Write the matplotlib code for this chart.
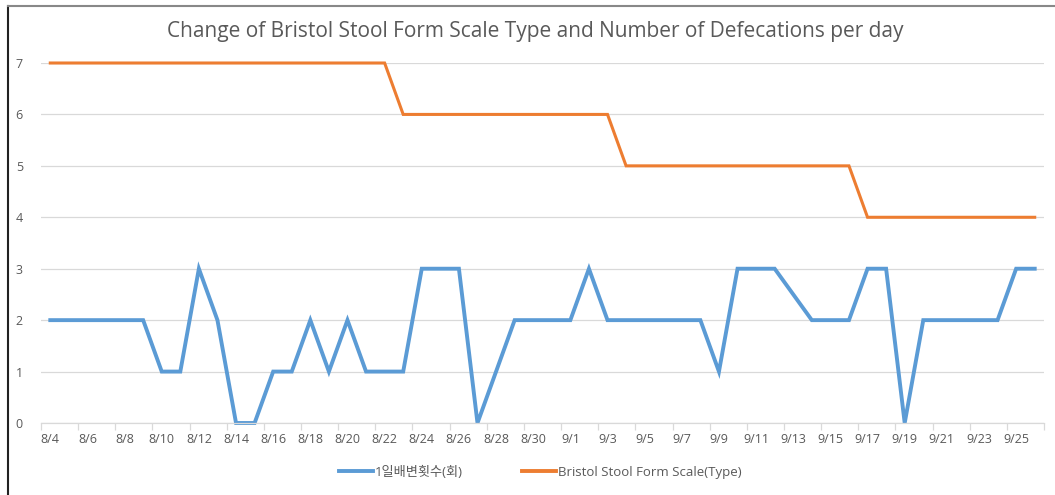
import numpy as np
import pandas as pd
import matplotlib
matplotlib.use('Agg')
from matplotlib import pyplot as plt
from matplotlib.lines import Line2D

plt.rcParams['font.family'] = ['Open Sans', 'Noto Sans CJK KR', 'DejaVu Sans']

dates = pd.date_range('2023-08-04', '2023-09-26', freq='D')
labels = [f'{d.month}/{d.day}' for d in dates]

defecations = [2, 2, 2, 2, 2, 2, 1, 1, 3, 2, 0, 0, 1, 1, 2, 1, 2, 1, 1, 1,
               3, 3, 3, 0, 1, 2, 2, 2, 2, 3, 2, 2, 2, 2, 2, 2, 1, 3, 3, 3,
               2.5, 2, 2, 2, 3, 3, 0, 2, 2, 2, 2, 2, 3, 3]
bristol = [7] * 19 + [6] * 12 + [5] * 13 + [4] * 10

blue = '#5B9BD5'
orange = '#ED7D31'
grey = '#595959'

fig = plt.figure(figsize=(10.55, 4.95), dpi=100)
ax = fig.add_axes([41 / 1055, 72 / 495, 1003 / 1055, 360 / 495])

x = np.arange(len(labels))
ax.plot(x, defecations, color=blue, lw=2.8, clip_on=False, solid_joinstyle='miter')
ax.plot(x, bristol, color=orange, lw=2.2, clip_on=False, solid_joinstyle='miter')

ax.set_xlim(-0.5, len(labels) - 0.5)
ax.set_ylim(0, 7)
ax.set_yticks(range(8))
ax.yaxis.grid(True, color='#D9D9D9', lw=0.9)
ax.set_axisbelow(True)

ax.set_xticks(x[::2])
ax.set_xticklabels(labels[::2])
ax.set_xticks(np.arange(-0.5, len(labels), 2), minor=True)
ax.tick_params(axis='x', which='major', length=0, pad=7, labelsize=9, labelcolor=grey)
ax.tick_params(axis='x', which='minor', length=5, color='#D9D9D9', width=0.9)
ax.tick_params(axis='y', length=0, pad=13, labelsize=9, labelcolor=grey)

for s in ['top', 'right', 'left']:
    ax.spines[s].set_visible(False)
ax.spines['bottom'].set_color('#D9D9D9')
ax.spines['bottom'].set_linewidth(0.9)

fig.text(535 / 1055, 1 - 31 / 495, 'Change of Bristol Stool Form Scale Type and Number of Defecations per day',
         ha='center', va='center', fontsize=15, color=grey)

handles = [Line2D([], [], color=blue, lw=2.8), Line2D([], [], color=orange, lw=2.8)]
fig.legend(handles, ['1일배변횟수(회)', 'Bristol Stool Form Scale(Type)'],
           loc='center', bbox_to_anchor=(540 / 1055, 1 - 472 / 495), ncol=2,
           frameon=False, fontsize=9.5, labelcolor=grey, handlelength=2.6,
           handletextpad=0.1, columnspacing=4.5)

# chart frame (left and top edges visible in the reference)
fig.add_artist(Line2D([8 / 1055, 8 / 1055], [0, 1 - 6 / 495], color='#222222', lw=1.5))
fig.add_artist(Line2D([8 / 1055, 1], [1 - 6 / 495, 1 - 6 / 495], color='#888888', lw=1.5))

fig.savefig('out.png', dpi=100)
